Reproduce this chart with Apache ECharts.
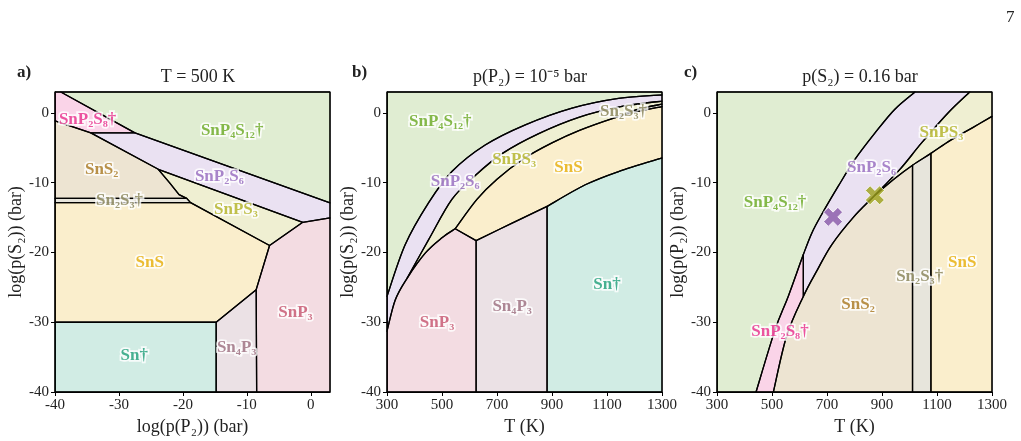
<!DOCTYPE html>
<html>
<head>
<meta charset="utf-8">
<script src="https://cdn.jsdelivr.net/npm/echarts@6.0.0/dist/echarts.min.js"></script>
<style>
  html, body { margin: 0; padding: 0; background: #fff; }
  #chart { width: 1021px; height: 441px; }
</style>
</head>
<body>
<div id="chart"></div>
<script>
// ---- panel a: T = 500 K, x = log p(P2), y = log p(S2)  (straight boundaries)
const aSnP2S8 = [[-40, 3], [-39.1, 3], [-27.5, -2.85], [-34.4, -2.85], [-40, -1.15]];
const aSnP4S12 = [[-39.1, 3], [3, 3], [3, -12.9], [-27.5, -2.85]];
const aSnP2S6 = [[-27.5, -2.85], [3, -12.9], [3, -15.05], [-1.26, -15.68], [-23.85, -8.08], [-34.4, -2.85]];
const aSnS2 = [[-40, -1.15], [-34.4, -2.85], [-23.85, -8.08], [-22.1, -10.0], [-20.6, -11.7], [-19.4, -12.25], [-40, -12.25]];
const aSn2S3 = [[-40, -12.25], [-19.4, -12.25], [-18.8, -12.86], [-40, -12.86]];
const aSnPS3 = [[-23.85, -8.08], [-1.26, -15.68], [-6.45, -19.0], [-18.8, -12.86], [-19.4, -12.25], [-20.6, -11.7], [-22.1, -10.0]];
const aSnS = [[-40, -12.86], [-18.8, -12.86], [-6.45, -19.0], [-8.54, -25.33], [-14.8, -30], [-40, -30]];
const aSnP3 = [[-6.45, -19.0], [-1.26, -15.68], [3, -15.05], [3, -40], [-8.47, -40], [-8.54, -25.33]];
const aSn4P3 = [[-14.8, -30], [-8.54, -25.33], [-8.47, -40], [-14.8, -40]];
const aSn = [[-40, -30], [-14.8, -30], [-14.8, -40], [-40, -40]];

// ---- panel b: p(P2) = 1e-5 bar, x = T (K), y = log p(S2)  (curved boundaries)
const bA = [[300, -26.3], [366, -18.9], [451, -12.9], [536, -8.4], [657, -4.6], [803, -1.7], [973, 0.7], [1142, 2.1], [1300, 2.6]];
const bB = [[373, -23.7], [451, -18.2], [536, -12.4], [620, -9.0], [720, -5.8], [850, -3.0], [1000, -0.6], [1150, 0.9], [1300, 1.7]];
const bP3 = [[300, -31.3], [330, -26.8], [373, -23.7], [439, -20.1], [500, -17.9], [548, -16.6]];
const bC = [[548, -16.6], [627, -12.4], [700, -9.5], [800, -6.5], [900, -4.3], [1000, -2.5], [1130, -0.67], [1200, 0.1], [1300, 0.9]];
const bE = [[1130, -0.67], [1220, 0.6], [1300, 1.25]];
const bN = [[624, -18.3], [755, -15.8], [882, -13.4]];
const bD = [[882, -13.4], [1021, -10.3], [1142, -8.4], [1300, -6.45]];

// ---- panel c: p(S2) = 0.16 bar, x = T (K), y = log p(P2)
const cE = [[1020, 3], [946, 0.5], [874, -2.9], [801, -6.7], [741, -10.5], [680, -14.6], [645, -17.2], [614, -20.3], [559, -26.3], [511, -31.1], [442, -40]];
const cF = [[505, -40], [553, -32], [614, -26.3], [665, -22.5], [717, -18.9], [795, -15.0], [874, -11.8], [965, -8.1], [1044, -4.3], [1140, 0], [1219, 3]];
const cG = [[874, -11.8], [950, -9.3], [1011, -7.5], [1078, -5.8], [1150, -3.9], [1230, -2.1], [1300, -0.5]];
const crossPoints = [[722, -14.9], [874, -11.8]];

// phase labels: [phase, x, y]
const labelsA = [
  ['SnP2S8', -34.9, -0.9], ['SnP4S12', -12.3, -2.5], ['SnS2', -32.7, -8.1], ['SnP2S6', -14.3, -9.1],
  ['Sn2S3', -29.9, -12.6], ['SnPS3', -11.7, -13.9], ['SnS', -25.2, -21.4], ['SnP3', -2.4, -28.6],
  ['Sn4P3', -11.6, -33.7], ['Sn', -27.6, -34.8]
];
const labelsB = [
  ['SnP4S12', 494, -1.2], ['SnP2S6', 548, -9.8], ['SnPS3', 762, -6.7], ['SnS', 960, -7.9],
  ['Sn2S3', 1160, 0.2], ['Sn', 1100, -24.6], ['Sn4P3', 755, -27.7], ['SnP3', 482, -30]
];
const labelsC = [
  ['SnPS3', 1116, -2.8], ['SnP2S6', 862, -7.9], ['SnP4S12', 511, -12.9], ['SnS', 1192, -21.4],
  ['Sn2S3', 1037, -23.4], ['SnS2', 813, -27.5], ['SnP2S8', 529, -31.3]
];

const phaseText = {
  SnP2S8: 'SnP₂S₈†', SnP4S12: 'SnP₄S₁₂†', SnS2: 'SnS₂', SnP2S6: 'SnP₂S₆', Sn2S3: 'Sn₂S₃†',
  SnPS3: 'SnPS₃', SnS: 'SnS', SnP3: 'SnP₃', Sn4P3: 'Sn₄P₃', Sn: 'Sn†'
};
const phaseColor = {
  SnP2S8: '#e7298a', SnP4S12: '#66a61e', SnS2: '#a6761d', SnP2S6: '#9467bd', Sn2S3: '#857f52',
  SnPS3: '#b0b020', SnS: '#e6ab02', SnP3: '#c4506c', Sn4P3: '#9a6a7c', Sn: '#1b9e77'
};

// piece of a curve from point index i to j (either direction), drawn smooth
const seg = (curve, i, j) => ({ curve, i, j });

function fill(hex) {
  const n = parseInt(hex.slice(1), 16);
  return `rgba(${n >> 16},${(n >> 8) & 255},${n & 255},0.2)`;
}

function buildPath(pieces, api) {
  let d = '';
  const go = p => { d += (d ? 'L' : 'M') + p[0].toFixed(2) + ',' + p[1].toFixed(2); };
  pieces.forEach(piece => {
    if (Array.isArray(piece)) {
      piece.forEach(pt => go(api.coord(pt)));
      return;
    }
    const px = piece.curve.map(pt => api.coord(pt));
    const step = piece.j > piece.i ? 1 : -1;
    go(px[piece.i]);
    for (let k = piece.i; k !== piece.j; k += step) {
      const p1 = px[k], p2 = px[k + step];
      const p0 = px[k - step] || p1, p3 = px[k + 2 * step] || p2;
      const c1 = [p1[0] + (p2[0] - p0[0]) / 6, p1[1] + (p2[1] - p0[1]) / 6];
      const c2 = [p2[0] - (p3[0] - p1[0]) / 6, p2[1] - (p3[1] - p1[1]) / 6];
      d += 'C' + [c1, c2, p2].map(p => p[0].toFixed(2) + ',' + p[1].toFixed(2)).join(' ');
    }
  });
  return d + 'Z';
}

function region(idx, phase, pieces) {
  return {
    type: 'custom',
    xAxisIndex: idx,
    yAxisIndex: idx,
    silent: true,
    data: [[0, 0]],
    renderItem: (params, api) => ({
      type: 'path',
      shape: { pathData: buildPath(pieces, api) },
      style: { fill: fill(phaseColor[phase]), stroke: '#000', lineWidth: 1.3, lineJoin: 'round' }
    })
  };
}

function labels(idx, list) {
  return {
    type: 'scatter',
    xAxisIndex: idx,
    yAxisIndex: idx,
    symbolSize: 0,
    silent: true,
    z: 5,
    data: list.map(([ph, x, y]) => ({
      value: [x, y],
      label: {
        show: true,
        position: 'inside',
        formatter: phaseText[ph],
        color: phaseColor[ph],
        fontFamily: 'Liberation Serif',
        fontWeight: 'bold',
        fontSize: 17,
        textBorderColor: '#fff',
        textBorderWidth: 3.5
      }
    }))
  };
}

const font = 'Liberation Serif';
const gridPos = [55, 387, 717];
const ticks = [-40, -30, -20, -10, 0];
const tTicks = [300, 500, 700, 900, 1100, 1300];

function xAxis(idx, name, min, max, values) {
  return {
    gridIndex: idx, type: 'value', min, max, name, nameLocation: 'middle', nameGap: 24,
    nameTextStyle: { fontFamily: font, fontSize: 18, color: '#222' },
    axisLine: { show: true, onZero: false, lineStyle: { color: '#000', width: 1 } },
    axisTick: { show: true, length: 4, customValues: values, lineStyle: { color: '#000' } },
    axisLabel: { customValues: values, formatter: v => String(v), fontFamily: font, fontSize: 15, color: '#222', margin: 6 },
    splitLine: { show: false }
  };
}
function yAxis(idx, name) {
  return {
    gridIndex: idx, type: 'value', min: -40, max: 3, name, nameLocation: 'middle', nameGap: 21,
    nameTextStyle: { fontFamily: font, fontSize: 18, color: '#222' },
    axisLine: { show: true, onZero: false, lineStyle: { color: '#000', width: 1 } },
    axisTick: { show: true, length: 4, customValues: ticks, lineStyle: { color: '#000' } },
    axisLabel: { customValues: ticks, formatter: v => String(v), fontFamily: font, fontSize: 15, color: '#222', margin: 6 },
    splitLine: { show: false }
  };
}

const series = [
  region(0, 'SnP4S12', [aSnP4S12]), region(0, 'SnP2S8', [aSnP2S8]), region(0, 'SnP2S6', [aSnP2S6]),
  region(0, 'SnS2', [aSnS2]), region(0, 'Sn2S3', [aSn2S3]), region(0, 'SnPS3', [aSnPS3]),
  region(0, 'SnS', [aSnS]), region(0, 'SnP3', [aSnP3]), region(0, 'Sn4P3', [aSn4P3]), region(0, 'Sn', [aSn]),

  region(1, 'SnP4S12', [[[300, 3], [1300, 3]], seg(bA, 8, 0)]),
  region(1, 'SnP2S6', [seg(bA, 0, 8), seg(bB, 8, 0), seg(bP3, 2, 0)]),
  region(1, 'SnPS3', [seg(bB, 0, 8), seg(bE, 2, 0), seg(bC, 6, 0), seg(bP3, 5, 2)]),
  region(1, 'Sn2S3', [seg(bE, 0, 2), seg(bC, 8, 6)]),
  region(1, 'SnS', [seg(bC, 0, 8), seg(bD, 3, 0), seg(bN, 2, 0)]),
  region(1, 'Sn', [seg(bD, 0, 3), [[1300, -40], [882, -40]]]),
  region(1, 'Sn4P3', [seg(bN, 0, 2), [[882, -40], [624, -40]]]),
  region(1, 'SnP3', [seg(bP3, 0, 5), [[624, -18.3], [624, -40], [300, -40]]]),

  region(2, 'SnP4S12', [[[300, 3]], seg(cE, 0, 10), [[300, -40]]]),
  region(2, 'SnP2S8', [seg(cE, 7, 10), seg(cF, 0, 2)]),
  region(2, 'SnP2S6', [seg(cE, 0, 7), seg(cF, 2, 10)]),
  region(2, 'SnPS3', [seg(cF, 6, 10), [[1300, 3]], seg(cG, 6, 0)]),
  region(2, 'SnS2', [seg(cF, 0, 6), seg(cG, 0, 2), [[1011, -40]]]),
  region(2, 'Sn2S3', [[[1011, -40]], seg(cG, 2, 3), [[1078, -40]]]),
  region(2, 'SnS', [[[1078, -40]], seg(cG, 3, 6), [[1300, -40]]]),

  labels(0, labelsA), labels(1, labelsB), labels(2, labelsC),
  {
    type: 'scatter', xAxisIndex: 2, yAxisIndex: 2, silent: true, z: 6,
    symbol: 'path://M0,5 L5,0 L10,5 L15,0 L20,5 L15,10 L20,15 L15,20 L10,15 L5,20 L0,15 L5,10 Z',
    symbolSize: 19,
    data: crossPoints.map((p, i) => ({
      value: p,
      itemStyle: { color: i === 0 ? '#8757a8' : '#9ca01a', borderColor: '#fff', borderWidth: 1 }
    }))
  }
];

const chart = echarts.init(document.getElementById('chart'));
chart.setOption({
  animation: false,
  backgroundColor: '#fff',
  title: [
    { text: '7', left: 1001, top: 4, textStyle: { fontFamily: font, fontSize: 17, fontWeight: 'normal', color: '#222' } },
    { text: 'a)', left: 12, top: 59, textStyle: { fontFamily: font, fontSize: 17, fontWeight: 'bold', color: '#222' } },
    { text: 'b)', left: 347, top: 59, textStyle: { fontFamily: font, fontSize: 17, fontWeight: 'bold', color: '#222' } },
    { text: 'c)', left: 679, top: 59, textStyle: { fontFamily: font, fontSize: 17, fontWeight: 'bold', color: '#222' } },
    { text: 'T = 500 K', left: 193, top: 63, textAlign: 'center', textStyle: { fontFamily: font, fontSize: 18, fontWeight: 'normal', color: '#222' } },
    { text: 'p(P₂) = 10⁻⁵ bar', left: 525, top: 63, textAlign: 'center', textStyle: { fontFamily: font, fontSize: 18, fontWeight: 'normal', color: '#222' } },
    { text: 'p(S₂) = 0.16 bar', left: 855, top: 63, textAlign: 'center', textStyle: { fontFamily: font, fontSize: 18, fontWeight: 'normal', color: '#222' } }
  ],
  grid: gridPos.map(l => ({
    left: l, top: 92, width: 275, height: 300,
    show: true, borderColor: '#000', borderWidth: 1, backgroundColor: 'transparent'
  })),
  xAxis: [
    xAxis(0, 'log(p(P₂)) (bar)', -40, 3, ticks),
    xAxis(1, 'T (K)', 300, 1300, tTicks),
    xAxis(2, 'T (K)', 300, 1300, tTicks)
  ],
  yAxis: [
    yAxis(0, 'log(p(S₂)) (bar)'),
    yAxis(1, 'log(p(S₂)) (bar)'),
    yAxis(2, 'log(p(P₂)) (bar)')
  ],
  series
});
</script>
</body>
</html>
